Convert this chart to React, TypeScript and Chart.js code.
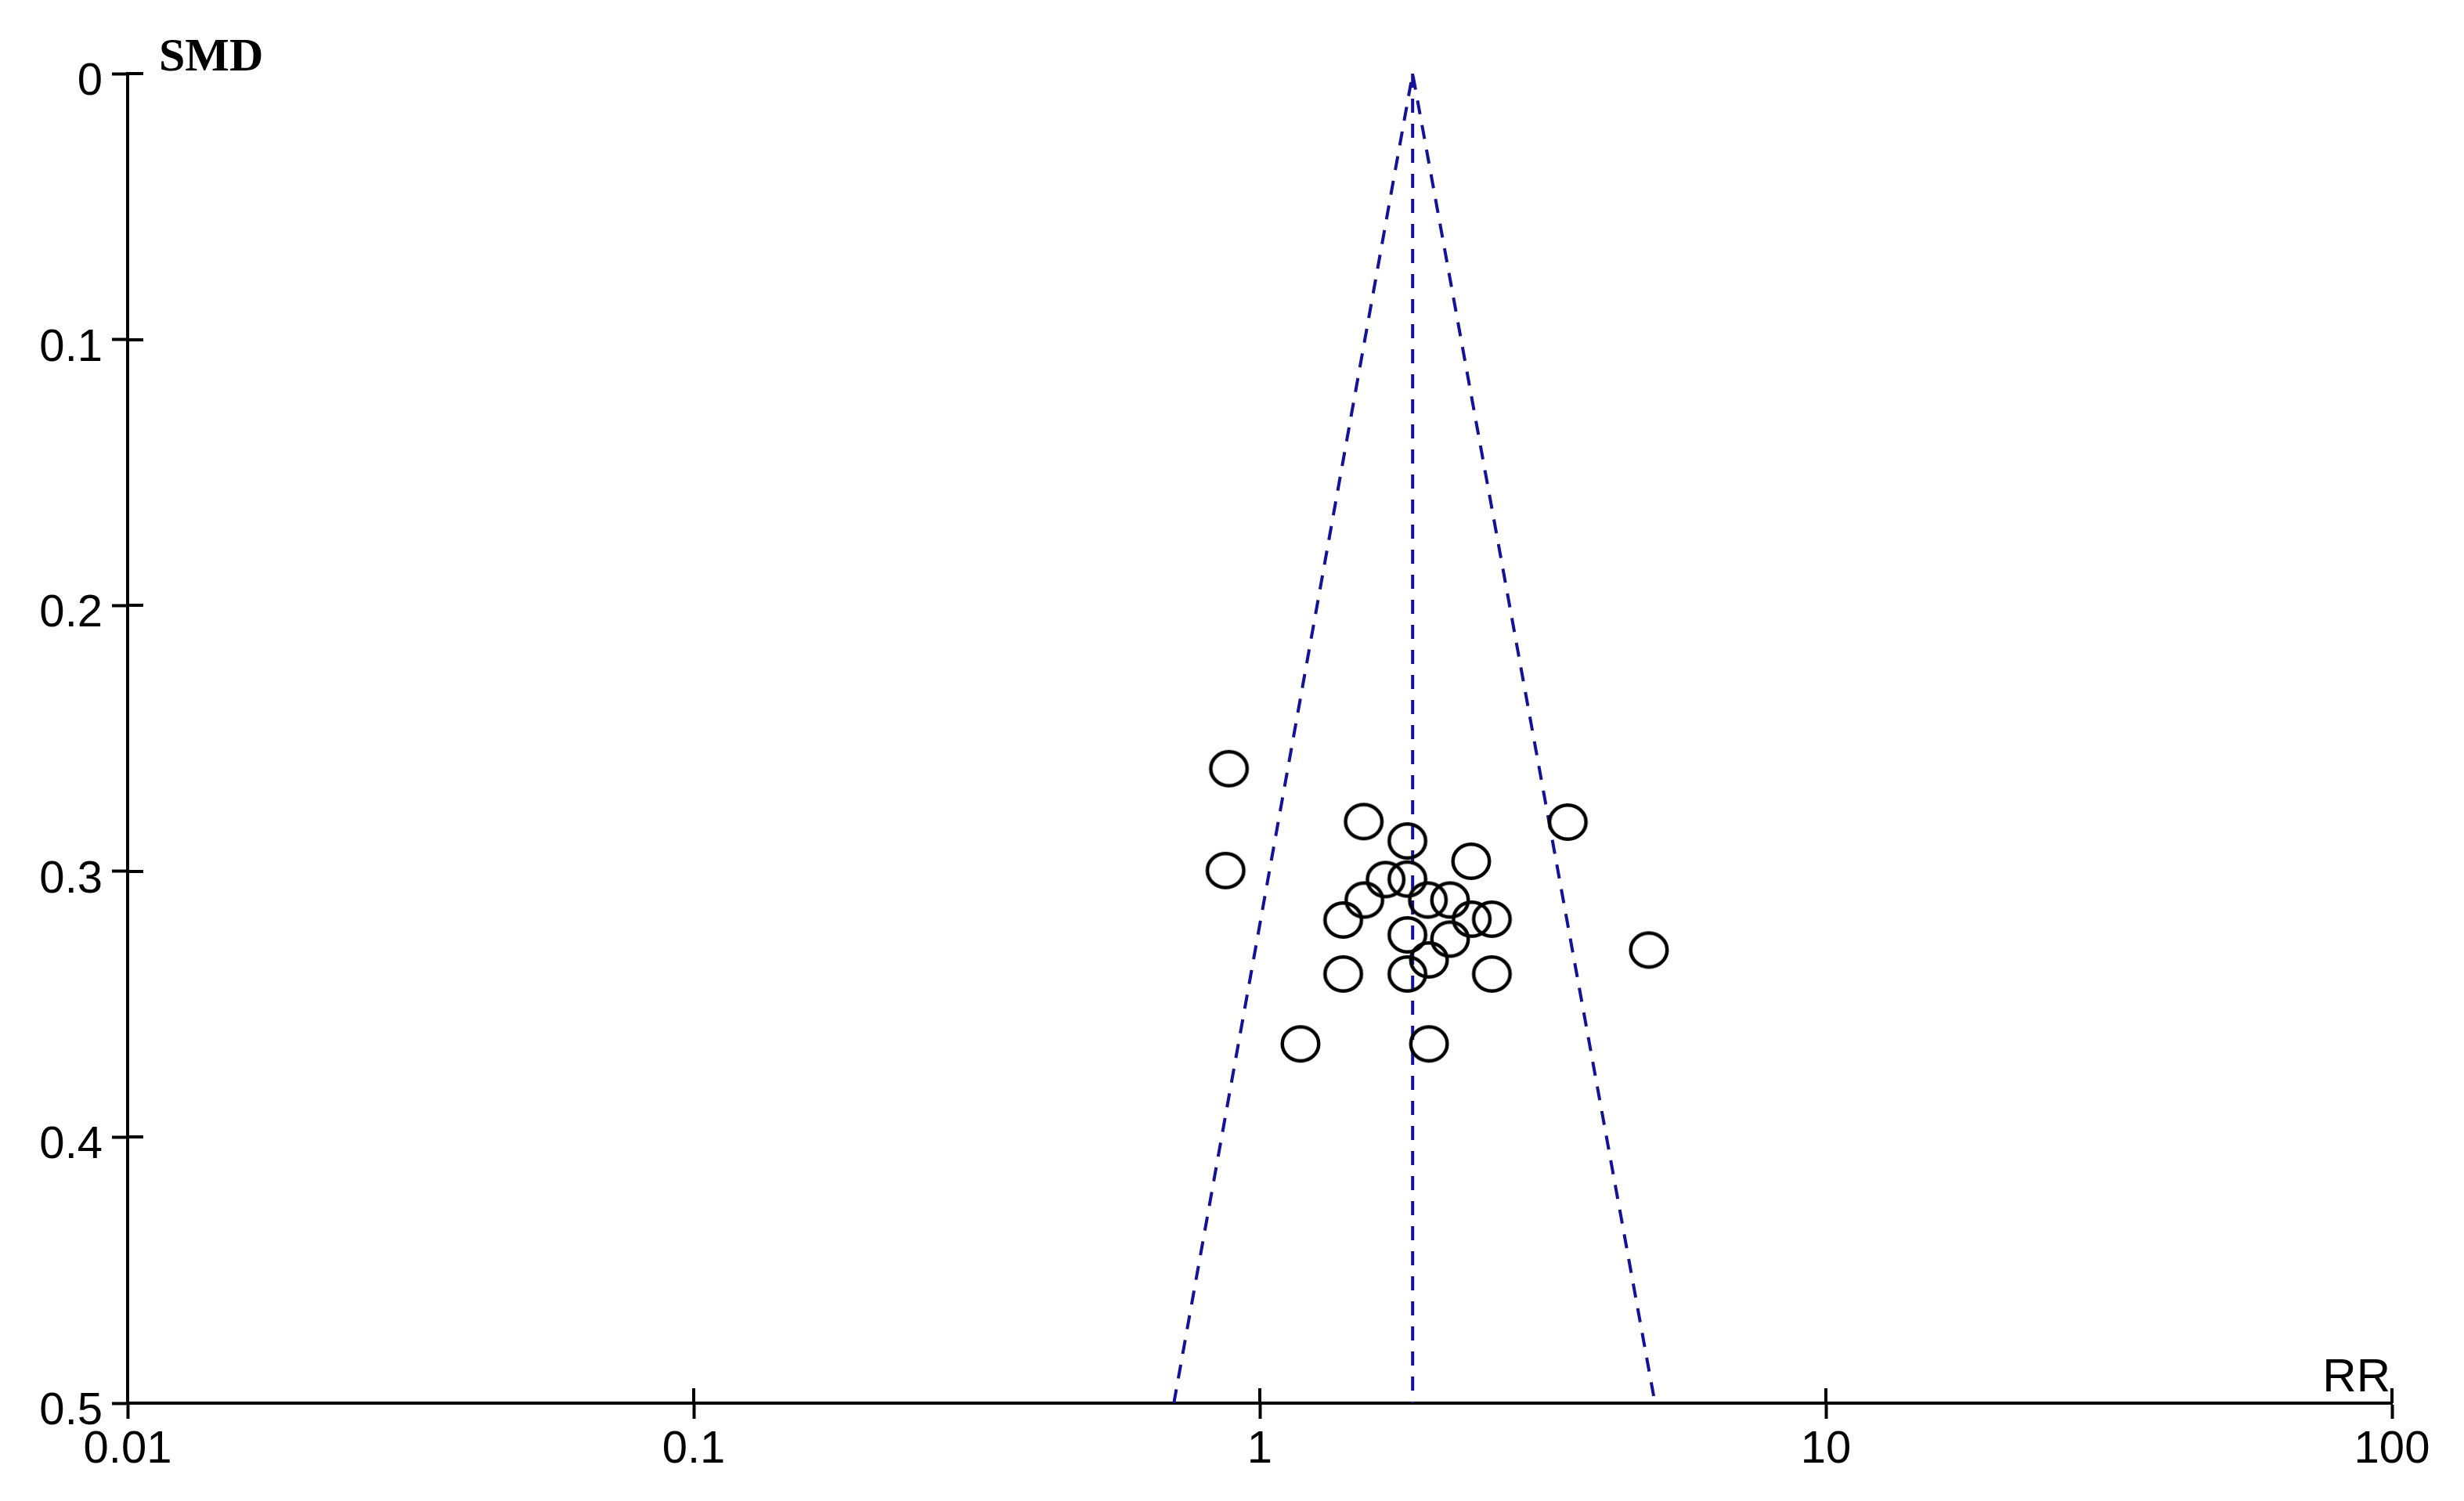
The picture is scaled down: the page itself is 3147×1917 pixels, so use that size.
import React, { useEffect, useRef } from "react";
import { Chart, registerables } from "chart.js";

Chart.register(...registerables);

// ---- data ----
const rrValues = [0.882, 1.526, 3.5, 1.823, 2.362, 0.87, 1.668, 1.823, 1.981, 2.168, 1.53, 1.404, 2.368, 2.57, 1.823, 2.168, 1.99, 4.867, 1.404, 1.823, 2.57, 1.18, 1.99];
const smdValues = [0.2614, 0.2813, 0.2815, 0.2886, 0.2962, 0.2997, 0.3031, 0.3029, 0.3108, 0.3108, 0.3108, 0.3183, 0.318, 0.318, 0.3239, 0.3255, 0.3333, 0.3296, 0.3386, 0.3386, 0.3386, 0.3649, 0.3649];
const pooledRR = 1.862;
const funnelLowerRR = 0.705;
const funnelUpperRR = 4.99;
const smdMax = 0.5;
const xTickValues = [0.01, 0.1, 1, 10, 100];
const xTickLabels = ["0.01", "0.1", "1", "10", "100"];
const yTickValues = [0, 0.1, 0.2, 0.3, 0.4, 0.5];
const yTickLabels = ["0", "0.1", "0.2", "0.3", "0.4", "0.5"];
const xTitle = "RR";
const yTitle = "SMD";

const SANS = "'Liberation Sans', Arial, sans-serif";
const SERIF = "'Liberation Serif', 'Times New Roman', serif";
const FUNNEL_COLOR = "#12129a";

const axisDecor = {
  id: "axisDecor",
  afterDraw(chart: any) {
    const { ctx, chartArea, scales } = chart;
    const xs = scales.x;
    const ys = scales.y;
    ctx.save();
    ctx.strokeStyle = "#000";
    ctx.lineWidth = 4;
    ctx.beginPath();
    xTickValues.forEach((v) => {
      const px = Math.round(xs.getPixelForValue(v));
      ctx.moveTo(px, chartArea.bottom);
      ctx.lineTo(px, chartArea.bottom - 19);
    });
    yTickValues.forEach((v) => {
      const py = Math.round(ys.getPixelForValue(v));
      ctx.moveTo(chartArea.left, py);
      ctx.lineTo(chartArea.left + 20, py);
    });
    ctx.stroke();
    ctx.fillStyle = "#000";
    ctx.font = `bold 60px ${SERIF}`;
    ctx.textAlign = "left";
    ctx.textBaseline = "alphabetic";
    ctx.fillText(yTitle, chartArea.left + 40, chartArea.top - 4);
    ctx.font = `60px ${SANS}`;
    ctx.textAlign = "right";
    ctx.fillText(xTitle, chartArea.right - 2, chartArea.bottom - 15);
    ctx.restore();
  },
};

function makeEllipse(): HTMLCanvasElement {
  const c = document.createElement("canvas");
  c.width = 58;
  c.height = 54;
  const g = c.getContext("2d")!;
  g.strokeStyle = "#000";
  g.lineWidth = 4.5;
  g.beginPath();
  g.ellipse(29, 27, 23.25, 21.75, 0, 0, Math.PI * 2);
  g.stroke();
  return c;
}

export default function App() {
  const ref = useRef<HTMLCanvasElement | null>(null);

  useEffect(() => {
    if (!ref.current) return;
    const ellipse = makeEllipse();
    const points = rrValues.map((x, i) => ({ x, y: smdValues[i] }));
    const tickFont = { family: SANS, size: 58 };
    const chart = new Chart(ref.current, {
      type: "scatter",
      data: {
        datasets: [
          {
            label: "Studies",
            data: points,
            pointStyle: ellipse as any,
            pointRadius: 24,
            backgroundColor: "rgba(0,0,0,0)",
            borderColor: "#000",
            showLine: false,
          },
          {
            label: "Funnel",
            data: [
              { x: funnelLowerRR, y: smdMax },
              { x: pooledRR, y: 0 },
              { x: funnelUpperRR, y: smdMax },
            ],
            showLine: true,
            borderColor: FUNNEL_COLOR,
            borderWidth: 4,
            borderDash: [18, 14],
            pointRadius: 0,
            fill: false,
            tension: 0,
          },
          {
            label: "Pooled",
            data: [
              { x: pooledRR, y: 0 },
              { x: pooledRR, y: smdMax },
            ],
            showLine: true,
            borderColor: FUNNEL_COLOR,
            borderWidth: 4,
            borderDash: [18, 14],
            pointRadius: 0,
            fill: false,
          },
        ],
      },
      options: {
        responsive: false,
        animation: false,
        devicePixelRatio: 1,
        layout: { padding: { top: 94, right: 92, left: 0, bottom: 0 } },
        plugins: { legend: { display: false }, tooltip: { enabled: false } },
        scales: {
          x: {
            type: "logarithmic",
            position: "bottom",
            min: 0.01,
            max: 100,
            afterBuildTicks: (s: any) => {
              s.ticks = xTickValues.map((v) => ({ value: v }));
            },
            afterFit: (s: any) => {
              s.height = 125;
            },
            ticks: {
              autoSkip: false,
              maxRotation: 0,
              minRotation: 0,
              padding: 5,
              color: "#000",
              font: tickFont,
              callback: (_v: any, i: number) => xTickLabels[i],
            },
            grid: {
              drawOnChartArea: false,
              drawTicks: true,
              tickLength: 20,
              tickWidth: 4,
              tickColor: "#000",
              color: "#000",
            },
            border: { display: true, color: "#000", width: 4 },
          },
          y: {
            type: "linear",
            position: "left",
            reverse: true,
            min: 0,
            max: 0.5,
            afterBuildTicks: (s: any) => {
              s.ticks = yTickValues.map((v) => ({ value: v }));
            },
            afterFit: (s: any) => {
              s.width = 163;
            },
            ticks: {
              padding: 12,
              labelOffset: 11,
              color: "#000",
              font: tickFont,
              callback: (_v: any, i: number) => yTickLabels[i],
            },
            grid: {
              drawOnChartArea: false,
              drawTicks: true,
              tickLength: 20,
              tickWidth: 4,
              tickColor: "#000",
              color: "#000",
            },
            border: { display: true, color: "#000", width: 4 },
          },
        },
      } as any,
      plugins: [axisDecor],
    });
    return () => chart.destroy();
  }, []);

  return (
    <div style={{ position: "absolute", left: 0, top: 0, width: 3147, height: 1917, background: "#fff" }}>
      <canvas ref={ref} width={3147} height={1917} style={{ display: "block", width: 3147, height: 1917 }} />
    </div>
  );
}
